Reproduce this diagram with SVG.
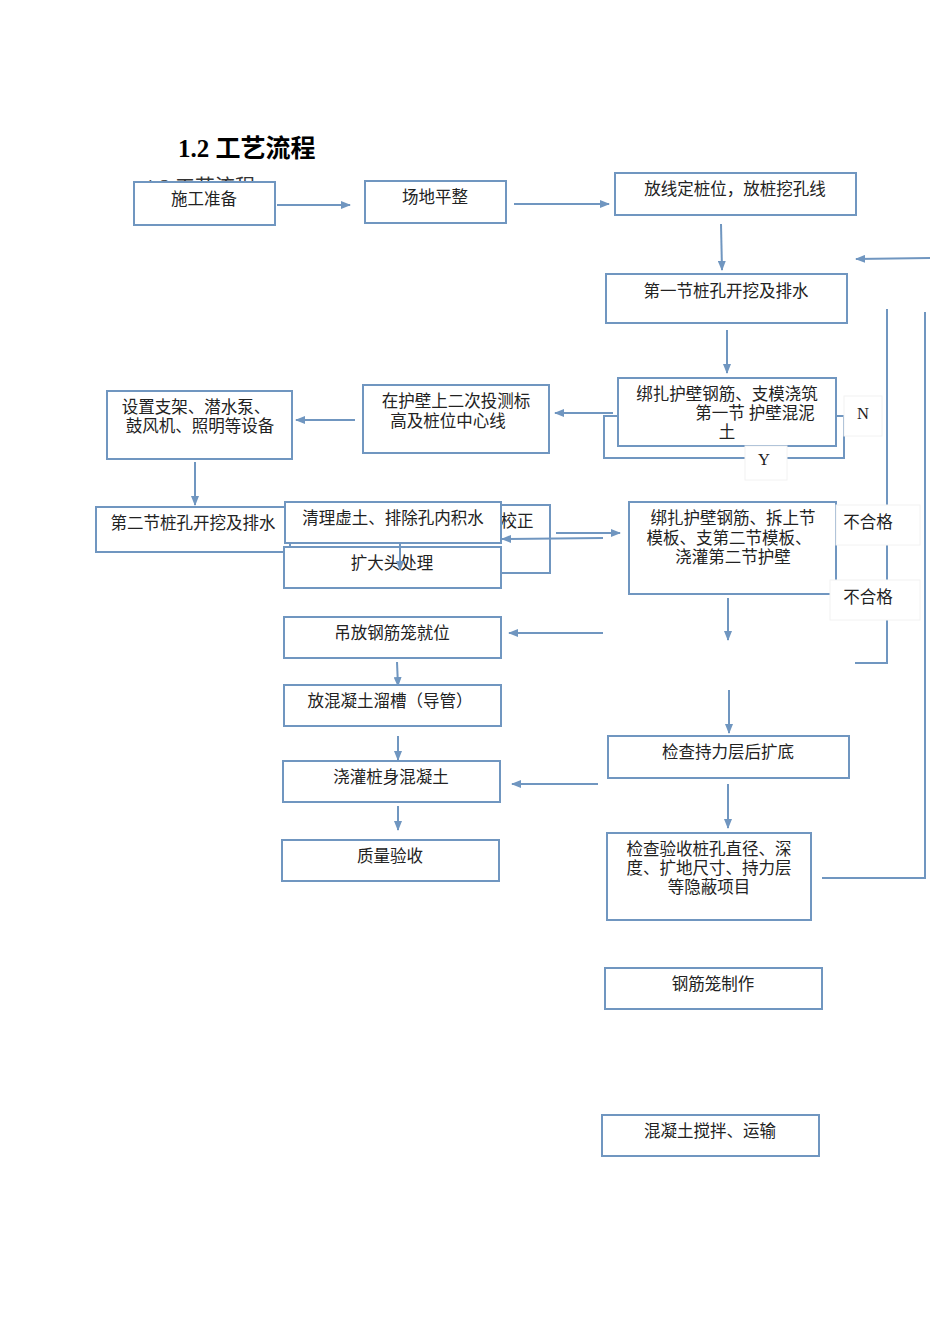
<svg xmlns="http://www.w3.org/2000/svg" width="950" height="1344" viewBox="0 0 950 1344">
<defs>
<marker id="a" markerWidth="10" markerHeight="8" refX="9" refY="4" orient="auto" markerUnits="userSpaceOnUse"><path d="M0,0 L10,4 L0,8 z" fill="#7096c0"/></marker>
<style>
.b{fill:#fff;stroke:#7096c0;stroke-width:2}
.l{fill:none;stroke:#7096c0;stroke-width:2}
.ar{fill:none;stroke:#7096c0;stroke-width:2;marker-end:url(#a)}
text{font-family:"Liberation Serif","Noto Sans CJK SC",serif;font-size:16.5px;fill:#222;text-anchor:middle}
.lb{fill:#fff;stroke:#f2f2f2;stroke-width:1}
</style>
</defs>
<rect width="950" height="1344" fill="#fff"/>
<text x="178" y="157" style="font-size:25px;font-weight:bold;text-anchor:start;fill:#000">1.2 工艺流程</text>
<text x="145" y="194" style="font-size:20px;text-anchor:start;fill:#333">1.2 工艺流程</text>
<g id="connectors">
<path class="l" d="M887,309 V663 H855"/>
<path class="l" d="M925,312 V878 H822"/>
<path class="l" d="M618,416 H604 V458 H844 V416 H836"/>
<path class="ar" d="M277,205 H350"/>
<path class="ar" d="M514,204 H609"/>
<path class="ar" d="M721,224 L722,270"/>
<path class="ar" d="M930,258 L856,259"/>
<path class="ar" d="M727,330 V373"/>
<path class="ar" d="M613,413 H555"/>
<path class="ar" d="M355,420 H296"/>
<path class="ar" d="M195,462 V505"/>
<path class="ar" d="M728,598 V640"/>
<path class="ar" d="M603,633 H509"/>
<path class="ar" d="M397,662 L398,686"/>
<path class="ar" d="M729,690 V733"/>
<path class="ar" d="M598,784 H512"/>
<path class="ar" d="M398,736 V760"/>
<path class="ar" d="M398,806 V830"/>
<path class="ar" d="M728,784 V828"/>
</g>
<g id="n1"><rect class="b" x="134" y="182" width="141" height="43"/><text x="204" y="205">施工准备</text></g>
<g id="n2"><rect class="b" x="365" y="181" width="141" height="42"/><text x="435" y="203">场地平整</text></g>
<g id="n3"><rect class="b" x="615" y="173" width="241" height="42"/><text x="735" y="195">放线定桩位，放桩挖孔线</text></g>
<g id="n4"><rect class="b" x="606" y="274" width="241" height="49"/><text x="726" y="297">第一节桩孔开挖及排水</text></g>
<g id="n5"><rect class="b" x="618" y="378" width="218" height="68"/><text x="727" y="400">绑扎护壁钢筋、支模浇筑</text><text x="755" y="419">第一节  护壁混泥</text><text x="727" y="438">土</text></g>
<g id="lN"><rect class="lb" x="844" y="396" width="38" height="40"/><text x="863" y="419">N</text></g>
<g id="lY"><rect class="lb" x="745" y="446" width="42" height="34"/><text x="764" y="465">Y</text></g>
<g id="n6"><rect class="b" x="363" y="385" width="186" height="68"/><text x="456" y="407">在护壁上二次投测标</text><text x="448" y="427">高及桩位中心线</text></g>
<g id="n7"><rect class="b" x="107" y="391" width="185" height="68"/><text x="196" y="413">设置支架、潜水泵、</text><text x="200" y="432">鼓风机、照明等设备</text></g>
<g id="n8"><rect class="b" x="96" y="507" width="204" height="45"/><text x="193" y="529">第二节桩孔开挖及排水</text></g>
<g id="n9"><rect class="b" x="290" y="505" width="260" height="68"/><text x="517" y="527">校正</text></g>
<g id="n10"><rect class="b" x="285" y="502" width="216" height="41"/><text x="393" y="524">清理虚土、排除孔内积水</text></g>
<g id="n11"><rect class="b" x="284" y="547" width="217" height="41"/><text x="392" y="569">扩大头处理</text></g>
<path class="ar" d="M400,543 V570"/>
<path class="ar" d="M556,533 H620"/>
<path class="ar" d="M603,538 L502,539"/>
<g id="n12"><rect class="b" x="629" y="502" width="207" height="92"/><text x="733" y="524">绑扎护壁钢筋、拆上节</text><text x="729" y="544">模板、支第二节模板、</text><text x="733" y="563">浇灌第二节护壁</text></g>
<g id="lF1"><rect class="lb" x="836" y="505" width="84" height="40"/><text x="868" y="528">不合格</text></g>
<g id="lF2"><rect class="lb" x="830" y="580" width="90" height="40"/><text x="868" y="603">不合格</text></g>
<g id="n13"><rect class="b" x="284" y="617" width="217" height="41"/><text x="392" y="639">吊放钢筋笼就位</text></g>
<g id="n14"><rect class="b" x="284" y="685" width="217" height="41"/><text x="390" y="707">放混凝土溜槽（导管）</text></g>
<g id="n15"><rect class="b" x="608" y="736" width="241" height="42"/><text x="728" y="758">检查持力层后扩底</text></g>
<g id="n16"><rect class="b" x="283" y="761" width="217" height="41"/><text x="391" y="783">浇灌桩身混凝土</text></g>
<g id="n17"><rect class="b" x="282" y="840" width="217" height="41"/><text x="390" y="862">质量验收</text></g>
<g id="n18"><rect class="b" x="607" y="833" width="204" height="87"/><text x="709" y="855">检查验收桩孔直径、深</text><text x="709" y="874">度、扩地尺寸、持力层</text><text x="709" y="893">等隐蔽项目</text></g>
<g id="n19"><rect class="b" x="605" y="968" width="217" height="41"/><text x="713" y="990">钢筋笼制作</text></g>
<g id="n20"><rect class="b" x="602" y="1115" width="217" height="41"/><text x="710" y="1137">混凝土搅拌、运输</text></g>
</svg>
